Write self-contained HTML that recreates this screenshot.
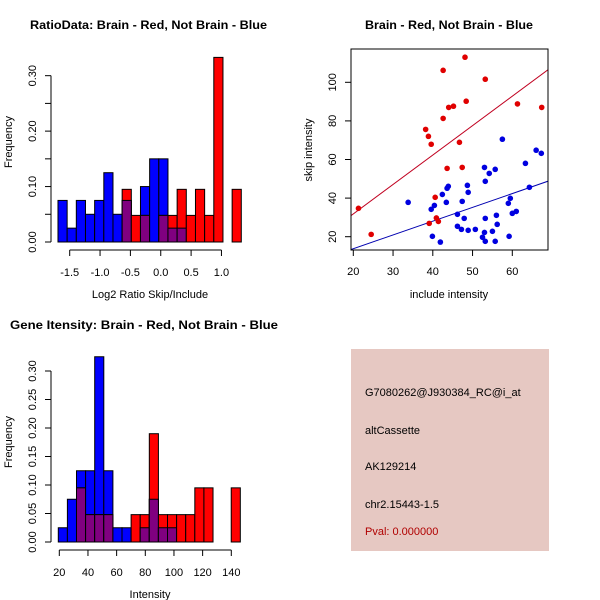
<!DOCTYPE html>
<html><head><meta charset="utf-8">
<style>
body{margin:0;background:#fff;}
svg{display:block;font-family:"Liberation Sans",Arial,sans-serif;}
</style></head>
<body>
<svg id="chart" width="600" height="600" xmlns="http://www.w3.org/2000/svg">
<rect x="0" y="0" width="600" height="600" fill="#fff"/>
<g id="p1"></g>
<g id="p2"></g>
<g id="p3"></g>
<g>
<rect x="351" y="349" width="198" height="202" fill="#e6c8c2"/>
<text x="365" y="396" font-size="11" fill="#000">G7080262@J930384_RC@i_at</text>
<text x="365" y="434" font-size="11" fill="#000">altCassette</text>
<text x="365" y="470" font-size="11" fill="#000">AK129214</text>
<text x="365" y="508" font-size="11" fill="#000">chr2.15443-1.5</text>
<text x="365" y="535" font-size="11" fill="#b00000">Pval: 0.000000</text>
</g>
</svg>
<script>
// Ratio histogram data (20 bins)
const ratioBinStart = -1.693, ratioBinWidth = 0.151;
const ratioBlue = [0.075,0.025,0.075,0.05,0.075,0.125,0.05,0.075,0,0.10,0.15,0.15,0.025,0.025,0,0,0,0,0,0];
const ratioRed  = [0,0,0,0,0,0,0,0.095,0.048,0.048,0,0.048,0.048,0.095,0.048,0.095,0.048,0.333,0,0.095];
const ratioXTicks = [-1.5,-1.0,-0.5,0.0,0.5,1.0];
const ratioXLabels = ["-1.5","-1.0","-0.5","0.0","0.5","1.0"];
const ratioYTicks = [0,0.05,0.10,0.15,0.20,0.25,0.30];
const ratioYLabels = ["0.00","","0.10","","0.20","","0.30"];
// Intensity histogram data
const intBinStart = 19.3, intBinWidth = 6.35;
const intBlue = [0.025,0.075,0.125,0.125,0.325,0.125,0.025,0.025,0,0.025,0.075,0.025,0.025,0,0,0,0,0,0,0];
const intRed  = [0,0,0.095,0.048,0.048,0.048,0,0,0.048,0.048,0.19,0.048,0.048,0.048,0.048,0.095,0.095,0,0,0.095];
const intXTicks = [20,40,60,80,100,120,140];
const intYTicks = [0,0.05,0.10,0.15,0.20,0.25,0.30];
const intYLabels = ["0.00","0.05","0.10","0.15","0.20","0.25","0.30"];
// Scatter data
const redX = [21.3,24.5,38.2,38.9,39.6,42.6,42.6,44,45.2,48.1,48.4,46.7,43.6,47.4,53.2,61.3,67.4,40.6,40.9,39.1,41.4];
const redY = [34.7,21.2,75.6,72,67.9,106.2,81.3,87,87.6,113,90.2,68.9,55.4,55.9,101.6,88.8,87,40.4,29.7,26.9,27.9];
const blueX = [33.8,39.6,40.4,39.9,41.9,42.4,43.4,43.6,43.9,47.4,46.2,46.2,47.2,47.9,48.7,48.9,48.9,50.7,52.5,53,53.2,53.2,53.2,53,54.2,55,55.7,55.7,56,56.2,57.5,59,59.5,59.2,60,61,63.3,64.3,66,67.3];
const blueY = [37.8,34.2,36.2,20.2,17.2,41.9,37.8,45.1,46.1,38.3,31.6,25.4,23.8,29.5,46.6,43,23.3,23.8,19.7,22.2,17.6,29.5,48.7,55.9,52.8,22.8,54.9,17.6,31.1,26.4,70.5,37.3,39.9,20.2,32.1,33.1,58,45.6,64.8,63.2];
const redFit = [1.3,1.525];   // intercept, slope
const blueFit = [-0.5,0.714];
const scXTicks = [20,30,40,50,60];
const scYTicks = [20,40,60,80,100];

const NS="http://www.w3.org/2000/svg";
function mk(parent,tag,attrs,text){const e=document.createElementNS(NS,tag);for(const k in attrs)e.setAttribute(k,attrs[k]);if(text!==undefined)e.textContent=text;parent.appendChild(e);return e;}

function histogram(g, o){
  const X=v=>o.x0+(v-o.xv0)*o.xs, Y=v=>o.base-v*o.ys;
  mk(g,'text',{x:o.tx,y:o.ty,'font-size':12,'font-weight':'bold',textLength:o.tl,lengthAdjust:'spacingAndGlyphs'},o.title);
  for(let i=0;i<o.blue.length;i++){
    const a=X(o.start+i*o.w), b=X(o.start+(i+1)*o.w);
    const bl=o.blue[i], rd=o.red[i], mn=Math.min(bl,rd);
    if(bl>0){const r=mk(g,'rect',{x:a,y:Y(bl),width:b-a,height:Y(0)-Y(bl),fill:'#0000ff',stroke:'#000','stroke-width':1});
      
      }
    if(rd>0){const r=mk(g,'rect',{x:a,y:Y(rd),width:b-a,height:Y(0)-Y(rd),fill:'#ff0000',stroke:'#000','stroke-width':1});
      
      }
    if(mn>0){const r=mk(g,'rect',{x:a,y:Y(mn),width:b-a,height:Y(0)-Y(mn),fill:'#800080',stroke:'#000','stroke-width':1});
      
      }
  }
  const ax=o.yaxX;
  mk(g,'line',{x1:ax,x2:ax,y1:Y(o.yt[0]),y2:Y(o.yt[o.yt.length-1]),stroke:'#000'});
  o.yt.forEach((t,i)=>{mk(g,'line',{x1:ax-6,x2:ax,y1:Y(t),y2:Y(t),stroke:'#000'});
    if(o.yl[i]){const tx=mk(g,'text',{x:0,y:0,'font-size':11,'text-anchor':'middle',transform:`translate(${ax-15},${Y(t)}) rotate(-90)`},o.yl[i]);
      }});
  const ay=o.base+8;
  mk(g,'line',{x1:X(o.xt[0]),x2:X(o.xt[o.xt.length-1]),y1:ay,y2:ay,stroke:'#000'});
  o.xt.forEach((t,i)=>{mk(g,'line',{x1:X(t),x2:X(t),y1:ay,y2:ay+6,stroke:'#000'});
    const tx=mk(g,'text',{x:X(t),y:ay+26,'font-size':11,'text-anchor':'middle'},o.xl[i]);
    });
  mk(g,'text',{x:150,y:o.base+56,'font-size':11,'text-anchor':'middle'},o.xlab);
  mk(g,'text',{x:0,y:0,'font-size':11,'text-anchor':'middle',transform:`translate(12,${o.base-100}) rotate(-90)`},'Frequency');
}

histogram(document.getElementById('p1'),{x0:69.7,xv0:-1.5,xs:60.7,base:242,ys:554.4,start:ratioBinStart,w:ratioBinWidth,
  blue:ratioBlue,red:ratioRed,xt:ratioXTicks,xl:ratioXLabels,yt:ratioYTicks,yl:ratioYLabels,yaxX:51,
  title:'RatioData: Brain - Red, Not Brain - Blue',tx:30,ty:29,tl:237,xlab:'Log2 Ratio Skip/Include'});
histogram(document.getElementById('p3'),{x0:59.3,xv0:20,xs:1.4333,base:542,ys:570,start:intBinStart,w:intBinWidth,
  blue:intBlue,red:intRed,xt:intXTicks,xl:intXTicks.map(String),yt:intYTicks,yl:intYLabels,yaxX:51,
  title:'Gene Itensity: Brain - Red, Not Brain - Blue',tx:10,ty:329,tl:268,xlab:'Intensity'});

(function(){
  const g=document.getElementById('p2');
  const L=351,R=548,T=49,B=250;
  const X=v=>353.3+(v-20)*3.975, Y=v=>236.7-(v-20)*1.93;
  mk(g,'text',{x:365,y:29,'font-size':12,'font-weight':'bold',textLength:168,lengthAdjust:'spacingAndGlyphs'},'Brain - Red, Not Brain - Blue');
  mk(g,'defs',{}).innerHTML='<clipPath id="sc"><rect x="351" y="49" width="197" height="201"/></clipPath>';
  const cg=mk(g,'g',{'clip-path':'url(#sc)'});
  [[redFit,'#c00020'],[blueFit,'#0000b0']].forEach(([f,c])=>{
    const l=mk(cg,'line',{x1:X(15),y1:Y(f[0]+f[1]*15),x2:X(75),y2:Y(f[0]+f[1]*75),stroke:c,'stroke-width':1});
    
    
  });
  redX.forEach((x,i)=>{const c=mk(g,'circle',{cx:X(x),cy:Y(redY[i]),r:2.8,fill:'#e00000'});
    
    });
  blueX.forEach((x,i)=>{const c=mk(g,'circle',{cx:X(x),cy:Y(blueY[i]),r:2.8,fill:'#0000e0'});
    
    });
  mk(g,'rect',{x:L,y:T,width:R-L,height:B-T,fill:'none',stroke:'#000'});
  scXTicks.forEach(t=>{mk(g,'line',{x1:X(t),x2:X(t),y1:B,y2:B+6,stroke:'#000'});
    mk(g,'text',{x:X(t),y:275,'font-size':11,'text-anchor':'middle'},String(t));});
  scYTicks.forEach(t=>{mk(g,'line',{x1:L-6,x2:L,y1:Y(t),y2:Y(t),stroke:'#000'});
    mk(g,'text',{x:0,y:0,'font-size':11,'text-anchor':'middle',transform:`translate(${L-15},${Y(t)}) rotate(-90)`},String(t));});
  mk(g,'text',{x:449,y:298,'font-size':11,'text-anchor':'middle'},'include intensity');
  mk(g,'text',{x:0,y:0,'font-size':11,'text-anchor':'middle',transform:'translate(312,150) rotate(-90)'},'skip intensity');
})();
</script>
</body></html>
